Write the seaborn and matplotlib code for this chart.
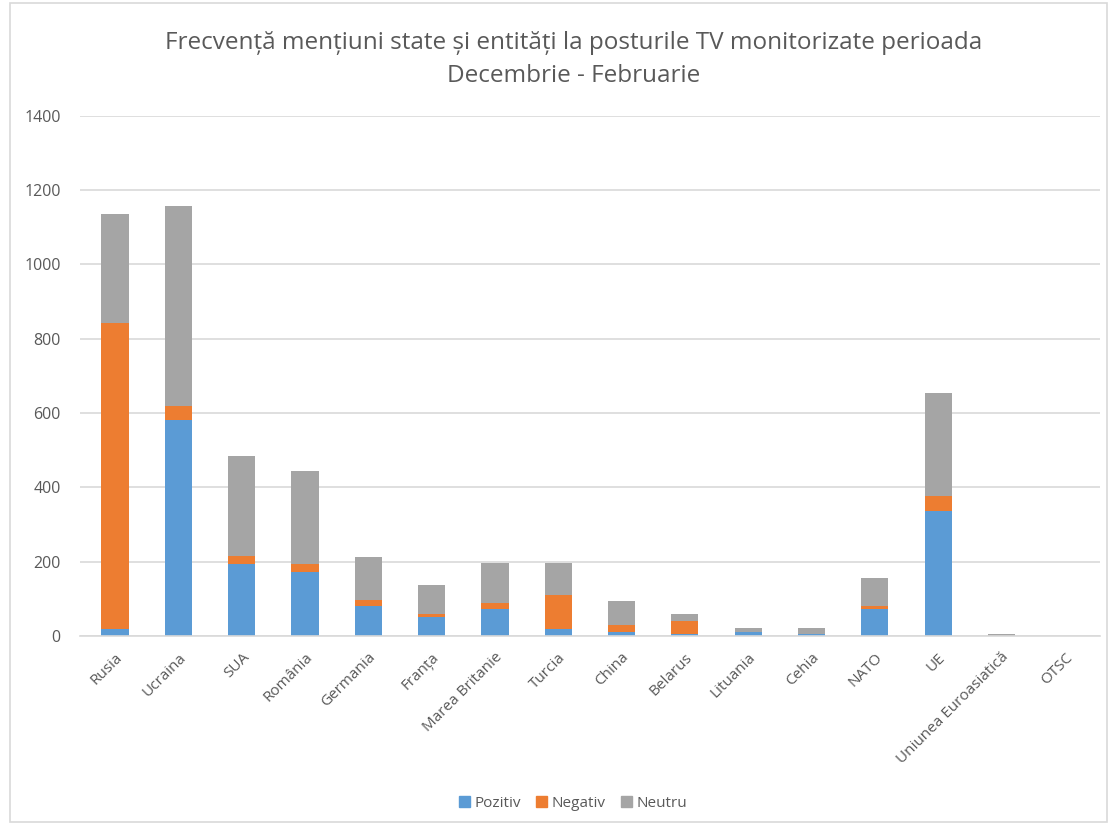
import matplotlib.pyplot as plt
import pandas as pd
import seaborn as sns
from matplotlib.patches import Patch, Rectangle

# Data
categories = ["Rusia", "Ucraina", "SUA", "România", "Germania", "Franța", "Marea Britanie",
              "Turcia", "China", "Belarus", "Lituania", "Cehia", "NATO", "UE",
              "Uniunea Euroasiatică", "OTSC"]
pozitiv = [20, 582, 195, 173, 80, 50, 73, 20, 10, 5, 11, 5, 73, 337, 0, 0]
negativ = [822, 38, 21, 21, 18, 10, 15, 89, 20, 34, 1, 1, 8, 39, 0, 0]
neutru = [293, 538, 267, 251, 114, 77, 109, 88, 63, 20, 9, 15, 76, 278, 4, 0]

df = pd.DataFrame({"cat": categories, "Pozitiv": pozitiv, "Negativ": negativ, "Neutru": neutru})
df["top_neg"] = df["Pozitiv"] + df["Negativ"]
df["total"] = df["top_neg"] + df["Neutru"]

blue, orange, grey = "#5B9BD5", "#ED7D31", "#A5A5A5"
text_col = "#595959"

sns.set_style("white")
plt.rcParams["font.family"] = ["Open Sans", "DejaVu Sans"]

fig = plt.figure(figsize=(11.13, 8.27), dpi=100)
ax = fig.add_axes([0.072, 0.231, 0.916, 0.629])

# stacked look: draw cumulative totals on top of each other
for col, c in [("total", grey), ("top_neg", orange), ("Pozitiv", blue)]:
    sns.barplot(data=df, x="cat", y=col, color=c, saturation=1, width=0.43,
                linewidth=0, ax=ax)

ax.set_ylim(0, 1400)
ax.set_yticks(range(0, 1401, 200))
ax.set_xlim(-0.55, len(categories) - 0.45)
ax.yaxis.grid(True, color="#D9D9D9", linewidth=1.2)
ax.set_axisbelow(True)
for s in ["top", "right", "left"]:
    ax.spines[s].set_visible(False)
ax.spines["bottom"].set_color("#D9D9D9")
ax.spines["bottom"].set_linewidth(1.2)
ax.set_xlabel("")
ax.set_ylabel("")
ax.tick_params(axis="both", length=0, colors=text_col)
ax.tick_params(axis="y", pad=14, labelsize=11.5)
ax.tick_params(axis="x", pad=10, labelsize=11)
plt.setp(ax.get_xticklabels(), rotation=45, ha="right", rotation_mode="anchor")

fig.text(0.515, 0.948, "Frecvență mențiuni state și entități la posturile TV monitorizate perioada",
         ha="center", va="center", fontsize=17.5, color=text_col)
fig.text(0.515, 0.908, "Decembrie - Februarie", ha="center", va="center", fontsize=17.5,
         color=text_col)

handles = [Patch(color=blue, label="Pozitiv"), Patch(color=orange, label="Negativ"),
           Patch(color=grey, label="Neutru")]
fig.legend(handles=handles, loc="center", bbox_to_anchor=(0.515, 0.029), ncol=3, frameon=False,
           fontsize=11, labelcolor=text_col, handlelength=0.7, handleheight=0.7,
           handletextpad=0.3, columnspacing=1.0)

fig.patches.append(Rectangle((0.009, 0.006), 0.986, 0.99, transform=fig.transFigure,
                             fill=False, edgecolor="#D9D9D9", linewidth=1.2))

fig.savefig("out.png", dpi=100)
